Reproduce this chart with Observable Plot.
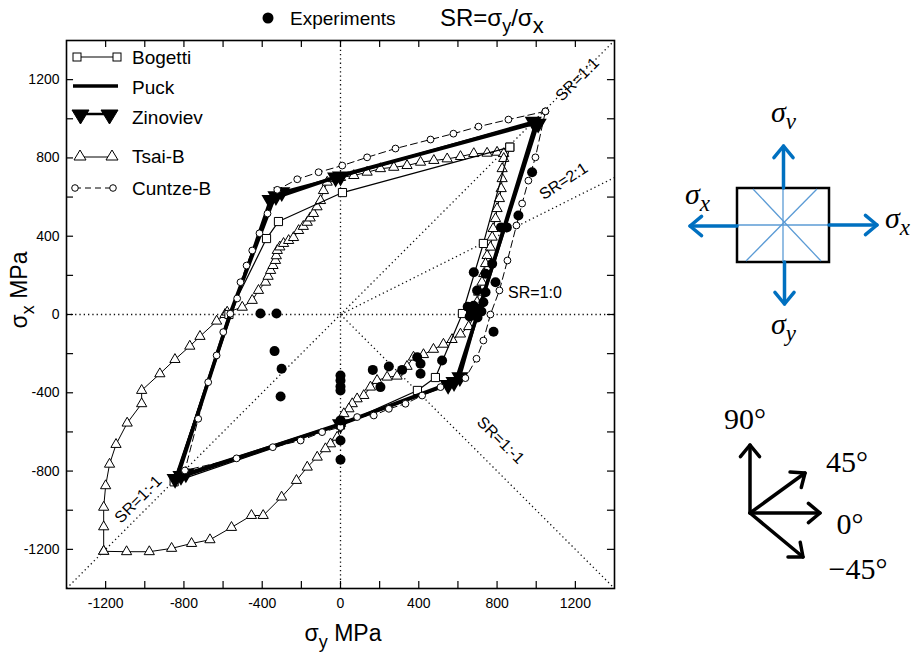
<!DOCTYPE html>
<html><head><meta charset="utf-8">
<script src="https://cdn.jsdelivr.net/npm/d3@7"></script>
<script src="https://cdn.jsdelivr.net/npm/@observablehq/plot@0.6"></script>
<style>body{margin:0;background:#fff}</style>
</head><body><div id="chart"></div>
<script>
// ---- data (σy on x axis, σx on y axis, MPa) ----
const tickLabels = [-1200, -800, -400, 0, 400, 800, 1200];
const minorTicks = [-1200, -1000, -800, -600, -400, -200, 0, 200, 400, 600, 800, 1000, 1200];

const puckSy = [1000, 0, -340, -565, -835, 0, 590, 700, 1000];
const puckSx = [980, 710, 595, 0, -835, -560, -340, 0, 980];

const zinovievSy = [0, 985, 1010, 700, 610, 580, 550, 0, -790, -815, -845, -560, -360, -330, -300, 0];
const zinovievSx = [705, 985, 975, 0, -320, -345, -360, -560, -812, -825, -840, 0, 585, 605, 625, 705];
const zinovievMarkSy = [0, 985, 1010, 610, 580, 550, 0, -790, -815, -845, -360, -330, -300, -25];
const zinovievMarkSx = [705, 985, 975, -320, -345, -360, -560, -812, -825, -840, 585, 605, 625, 700];

const bogettiSy = [865, 10, -317, -378, -570, -850, 0, 393, 485, 623, 730, 865];
const bogettiSx = [855, 623, 475, 388, 0, -855, -565, -388, -322, 5, 363, 855];

const tsaiSy = [-1210, -1210, -1210, -1200, -1180, -1147, -1090, -1016, -1016, -923, -846, -770, -718, -633, -590, -579, -502, -451, -419, -383, -370, -357, -345, -332, -328, -323, -310, -291, -265, -240, -214, -190, -170, -155, -138, -120, -102, -87, -68, -36, 0, 68, 136, 204, 272, 340, 409, 477, 545, 613, 681, 749, 800, 834, 834, 826, 826, 821, 812, 800, 792, 780, 775, 766, 749, 741, 732, 723, 706, 698, 690, 655, 613, 570, 526, 475, 424, 373, 340, 289, 238, 187, 153, 119, 85, 60, 43, 17, 0, -17, -51, -77, -119, -170, -225, -301, -395, -455, -557, -667, -761, -863, -977, -1093, -1210];
const tsaiSx = [-1210, -1085, -985, -875, -765, -664, -555, -456, -388, -303, -230, -162, -112, -34, 0, 12, 37, 72, 123, 165, 195, 225, 250, 276, 300, 327, 345, 363, 378, 393, 429, 450, 471, 493, 516, 550, 582, 633, 676, 694, 700, 710, 727, 745, 752, 761, 778, 787, 795, 807, 822, 824, 829, 822, 797, 745, 694, 643, 592, 541, 490, 439, 395, 344, 301, 260, 209, 165, 114, 63, 5, -62, -100, -128, -152, -178, -205, -218, -265, -315, -320, -337, -371, -414, -431, -456, -482, -507, -557, -627, -661, -686, -729, -780, -848, -933, -1027, -1027, -1088, -1151, -1170, -1195, -1212, -1212, -1210];

const cuntzeSy = [1047, 858, 705, 577, 460, 281, 136, 9, -112, -221, -323, -373, -414, -451, -480, -511, -528, -563, -599, -633, -676, -727, -795, -531, -346, -204, -94, 0, 85, 170, 247, 332, 417, 511, 638, 695, 730, 766, 812, 853, 899, 928, 960, 996, 1047];
const cuntzeSx = [1038, 996, 960, 924, 894, 848, 803, 761, 727, 691, 637, 516, 415, 327, 250, 165, 82, 4, -90, -209, -346, -533, -797, -735, -678, -644, -601, -575, -524, -516, -482, -456, -414, -371, -325, -226, -133, 0, 123, 276, 455, 567, 684, 803, 1038];

const expSy = [-409, -327, -337, -301, -306, 0, 0, 0, 0, 0, 0, 0, 165, 247, 204, 315, 392, 409, 409, 519, 782, 650, 680, 700, 670, 690, 720, 660, 700, 730, 681, 741, 775, 792, 698, 741, 820, 850, 909, 979];
const expSx = [5, 5, -187, -277, -419, -312, -337, -368, -388, -541, -644, -742, -283, -266, -371, -283, -218, -252, -303, -235, -88, 40, 45, 30, 15, 5, 15, -10, -15, 63, 216, 208, 259, 165, 123, 114, 445, 445, 506, 727];

const refLines = [
  {x1: -1400, y1: 0, x2: 1400, y2: 0},
  {x1: 0, y1: -1400, x2: 0, y2: 1400},
  {x1: -1400, y1: -1400, x2: 1400, y2: 1400},
  {x1: 0, y1: 0, x2: 1400, y2: 700},
  {x1: 0, y1: 0, x2: 1400, y2: -1400}
];

const zip = (a, b) => a.map((v, i) => ({sy: v, sx: b[i]}));
const puck = zip(puckSy, puckSx);
const zin = zip(zinovievSy, zinovievSx);
const zinM = zip(zinovievMarkSy, zinovievMarkSx);
const bog = zip(bogettiSy, bogettiSx);
const tsai = zip(tsaiSy, tsaiSx);
const cun = zip(cuntzeSy, cuntzeSx);
const exp = zip(expSy, expSx);

const TL = 36; // inward tick length in MPa (~7px)
const fmt = d => String(d);

const plot = Plot.plot({
  width: 917, height: 652,
  marginLeft: 66, marginRight: 303, marginTop: 40, marginBottom: 64,
  x: {domain: [-1400, 1400], axis: null},
  y: {domain: [-1400, 1400], axis: null},
  style: {fontFamily: "'Liberation Sans', Arial, sans-serif", fontSize: "14px", color: "black", background: "white"},
  marks: [
    Plot.link(refLines, {x1: "x1", y1: "y1", x2: "x2", y2: "y2", stroke: "#111", strokeWidth: 1.3, strokeDasharray: "1.3,3"}),
    Plot.ruleX(minorTicks, {x: d => d, y1: -1400, y2: -1400 + TL, stroke: "black", strokeWidth: 1.2}),
    Plot.ruleX(minorTicks, {x: d => d, y1: 1400, y2: 1400 - TL, stroke: "black", strokeWidth: 1.2}),
    Plot.ruleY(minorTicks, {y: d => d, x1: -1400, x2: -1400 + TL, stroke: "black", strokeWidth: 1.2}),
    Plot.ruleY(minorTicks, {y: d => d, x1: 1400, x2: 1400 - TL, stroke: "black", strokeWidth: 1.2}),
    Plot.axisX(tickLabels, {anchor: "bottom", tickSize: 0, tickPadding: 10, label: null, fontSize: 14, tickFormat: fmt}),
    Plot.axisY(tickLabels, {anchor: "left", tickSize: 0, tickPadding: 7, label: null, fontSize: 14, tickFormat: fmt}),
    // Tsai-B
    Plot.line(tsai, {x: "sy", y: "sx", stroke: "black", strokeWidth: 1}),
    Plot.dot(tsai, {x: "sy", y: "sx", symbol: "triangle", r: 3.8, fill: "white", stroke: "black", strokeWidth: 1}),
    // Bogetti
    Plot.line(bog, {x: "sy", y: "sx", stroke: "black", strokeWidth: 1.2}),
    Plot.dot(bog, {x: "sy", y: "sx", symbol: "square", r: 4.6, fill: "white", stroke: "black", strokeWidth: 1}),
    // Puck
    Plot.line(puck, {x: "sy", y: "sx", stroke: "black", strokeWidth: 3.8}),
    // Zinoviev
    Plot.line(zin, {x: "sy", y: "sx", stroke: "black", strokeWidth: 2.5}),
    Plot.dot(zinM, {x: "sy", y: "sx", symbol: "triangle", rotate: 180, r: 5.4, fill: "black", stroke: "black"}),
    // Cuntze-B
    Plot.line(cun, {x: "sy", y: "sx", stroke: "black", strokeWidth: 1, strokeDasharray: "7,4"}),
    Plot.dot(cun, {x: "sy", y: "sx", symbol: "circle", r: 3.4, fill: "white", stroke: "black", strokeWidth: 1}),
    // Experiments
    Plot.dot(exp, {x: "sy", y: "sx", r: 5, fill: "black"}),
    Plot.frame({stroke: "black", strokeWidth: 1.6})
  ]
});
document.getElementById("chart").append(plot);

const svg = d3.select(plot);
const SANS = "'Liberation Sans', Arial, sans-serif";
const SERIF = "'Liberation Serif', 'DejaVu Serif', serif";
const txt = (g, x, y, anchor, size, family) => g.append("text").attr("x", x).attr("y", y)
  .attr("text-anchor", anchor).attr("font-family", family).attr("font-size", size).attr("fill", "black").attr("stroke", "none");

// axis titles
const xl = txt(svg, 343, 641, "middle", 23, SANS);
xl.append("tspan").text("σ");
xl.append("tspan").attr("dy", 7).attr("font-size", 18).text("y");
xl.append("tspan").attr("dy", -7).text(" MPa");

const yl = txt(svg, 0, 0, "middle", 23, SANS).attr("transform", "translate(27,290) rotate(-90)");
yl.append("tspan").text("σ");
yl.append("tspan").attr("dy", 7).attr("font-size", 18).text("x");
yl.append("tspan").attr("dy", -7).text(" MPa");

// top legend
svg.append("circle").attr("cx", 268).attr("cy", 18).attr("r", 5.5).attr("fill", "black");
txt(svg, 290, 25, "start", 19, SANS).text("Experiments");
const sr = txt(svg, 440, 26, "start", 24, SANS);
sr.append("tspan").text("SR=σ");
sr.append("tspan").attr("dy", 6).attr("font-size", 18).text("y");
sr.append("tspan").attr("dy", -6).text("/σ");
sr.append("tspan").attr("dy", 7).attr("font-size", 22).text("x");

// SR labels
const srLab = (t, x, y, a) => txt(svg, 0, 0, "middle", 16, SANS).attr("transform", `translate(${x},${y}) rotate(${a})`)
  .attr("dominant-baseline", "middle").text(t);
srLab("SR=1:1", 578, 80, -45);
srLab("SR=2:1", 564, 182, -33);
srLab("SR=1:0", 535, 294, 0);
srLab("SR=1:-1", 500, 441, 45);
srLab("SR=1:-1", 139, 500, -45);

// plot legend
const lg = svg.append("g").attr("stroke", "black").attr("fill", "white");
lg.append("line").attr("x1", 77).attr("x2", 117).attr("y1", 57).attr("y2", 57).attr("stroke-width", 1.2);
lg.append("rect").attr("x", 73).attr("y", 53).attr("width", 8).attr("height", 8);
lg.append("rect").attr("x", 113).attr("y", 53).attr("width", 8).attr("height", 8);
lg.append("line").attr("x1", 73).attr("x2", 118).attr("y1", 86).attr("y2", 86).attr("stroke-width", 3.5);
lg.append("line").attr("x1", 80).attr("x2", 110).attr("y1", 114).attr("y2", 114).attr("stroke-width", 2.5);
lg.append("path").attr("d", "M72,110L89,110L80.5,124Z").attr("fill", "black");
lg.append("path").attr("d", "M101,110L118,110L109.5,124Z").attr("fill", "black");
lg.append("line").attr("x1", 80).attr("x2", 112).attr("y1", 157).attr("y2", 157).attr("stroke-width", 1);
lg.append("path").attr("d", "M74,160L86,160L80,150Z");
lg.append("path").attr("d", "M106,160L118,160L112,150Z");
lg.append("line").attr("x1", 75).attr("x2", 111).attr("y1", 188).attr("y2", 188).attr("stroke-width", 1).attr("stroke-dasharray", "6,4");
lg.append("circle").attr("cx", 75).attr("cy", 188).attr("r", 3.3);
lg.append("circle").attr("cx", 113).attr("cy", 188).attr("r", 3.3);
[["Bogetti", 57], ["Puck", 87], ["Zinoviev", 117], ["Tsai-B", 156], ["Cuntze-B", 188]].forEach(([t, y]) =>
  txt(svg, 132, y + 7, "start", 19, SANS).text(t));

// right-hand element diagram
const BLUE = "#0070C0", LBLUE = "#5B9BD5";
const dg = svg.append("g");
dg.append("rect").attr("x", 737).attr("y", 188).attr("width", 92).attr("height", 74).attr("fill", "white").attr("stroke", "black").attr("stroke-width", 2.5);
const inner = [[737, 225, 829, 225], [783, 188, 783, 262], [753, 189, 821, 261], [817, 189, 746, 261]];
inner.forEach(([a, b, c, d]) => dg.append("line").attr("x1", a).attr("y1", b).attr("x2", c).attr("y2", d).attr("stroke", LBLUE).attr("stroke-width", 1.3));
const arrow = (g, col, w, x1, y1, x2, y2, hl) => {
  const ang = Math.atan2(y2 - y1, x2 - x1);
  g.append("line").attr("x1", x1).attr("y1", y1).attr("x2", x2).attr("y2", y2).attr("stroke", col).attr("stroke-width", w).attr("stroke-linecap", "round");
  const p = [ang + Math.PI * 0.78, ang - Math.PI * 0.78].map(t => [x2 + hl * Math.cos(t), y2 + hl * Math.sin(t)]);
  g.append("path").attr("d", `M${p[0]}L${x2},${y2}L${p[1]}`).attr("fill", "none").attr("stroke", col).attr("stroke-width", w).attr("stroke-linecap", "round").attr("stroke-linejoin", "round");
};
arrow(dg, BLUE, 3.5, 783.5, 188, 783.5, 146, 15);
arrow(dg, BLUE, 3.5, 784.5, 262, 784.5, 304, 15);
arrow(dg, BLUE, 3.5, 737, 226, 690, 226, 15);
arrow(dg, BLUE, 3.5, 829, 225, 877, 225, 15);
const sig = (x, y, sub) => {
  const t = txt(dg, x, y, "start", 30, SERIF).attr("font-style", "italic");
  t.append("tspan").text("σ");
  t.append("tspan").attr("dy", 7).attr("font-size", 23).text(sub);
};
sig(771, 122, "ν");
sig(685, 204, "x");
sig(885, 228, "x");
sig(771, 334, "y");

// angle diagram
const ag = svg.append("g");
arrow(ag, "black", 3.5, 750, 513, 750, 445, 15);
arrow(ag, "black", 3.5, 750, 513, 805, 473, 15);
arrow(ag, "black", 3.5, 750, 513, 820, 513, 15);
arrow(ag, "black", 3.5, 750, 513, 803, 557, 15);
[["90°", 745, 429], ["45°", 847, 472], ["0°", 850, 534], ["−45°", 858, 579]].forEach(([t, x, y]) =>
  txt(ag, x, y, "middle", 30, SERIF).text(t));
</script>
</body></html>
